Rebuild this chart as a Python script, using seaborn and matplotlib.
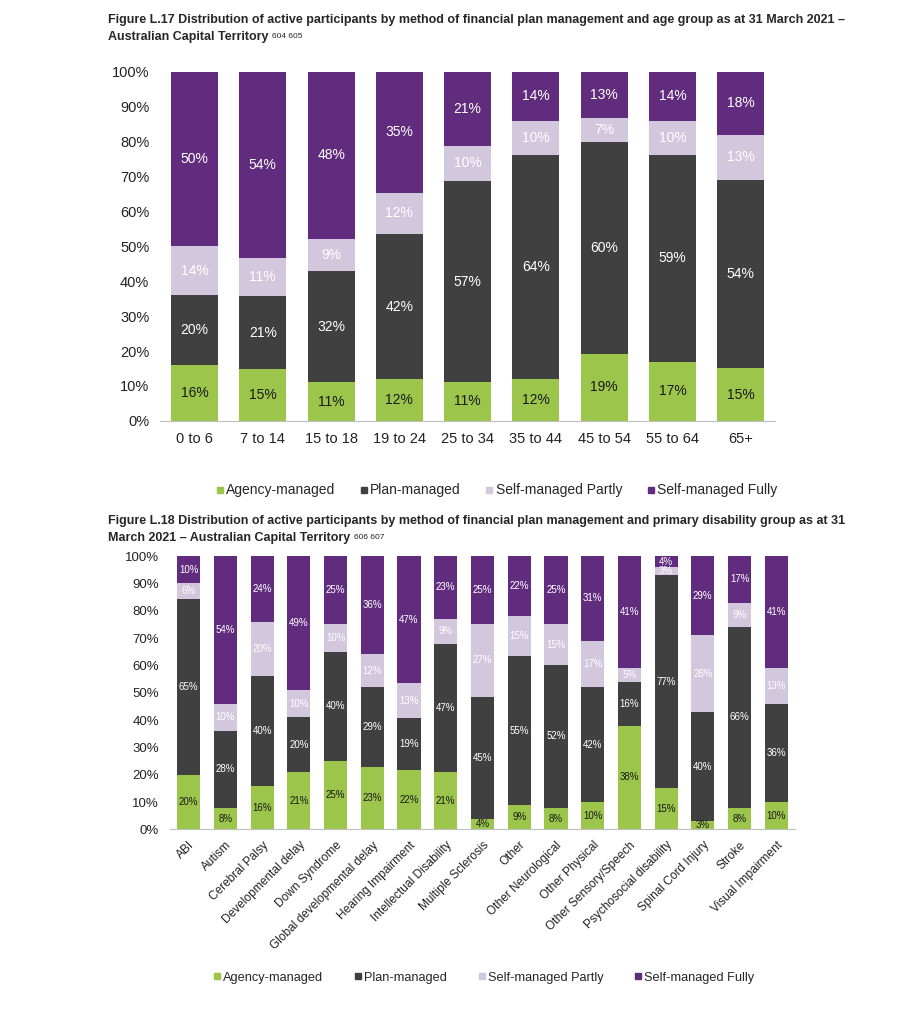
import numpy as np
import pandas as pd
import matplotlib
matplotlib.use("Agg")
import matplotlib.pyplot as plt
from matplotlib.lines import Line2D
from matplotlib import font_manager
import seaborn as sns

sns.set_theme(style="white")
plt.rcParams['font.family'] = ['Liberation Sans', 'DejaVu Sans']

series = ["Agency-managed", "Plan-managed", "Self-managed Partly", "Self-managed Fully"]
colors = ["#9BC54B", "#404041", "#D3C7DE", "#612C7D"]
text_colors = ["#1a1a1a", "white", "white", "white"]

age_groups = ["0 to 6", "7 to 14", "15 to 18", "19 to 24", "25 to 34", "35 to 44", "45 to 54", "55 to 64", "65+"]
age_agency = [16, 15, 11, 12, 11, 12, 19, 17, 15]
age_plan = [20, 21, 32, 42, 57, 64, 60, 59, 54]
age_partly = [14, 11, 9, 12, 10, 10, 7, 10, 13]
age_fully = [50, 54, 48, 35, 21, 14, 13, 14, 18]

dis_groups = ["ABI", "Autism", "Cerebral Palsy", "Developmental delay", "Down Syndrome",
              "Global developmental delay", "Hearing Impairment", "Intellectual Disability",
              "Multiple Sclerosis", "Other", "Other Neurological", "Other Physical",
              "Other Sensory/Speech", "Psychosocial disability", "Spinal Cord Injury",
              "Stroke", "Visual Impairment"]
dis_agency = [20, 8, 16, 21, 25, 23, 22, 21, 4, 9, 8, 10, 38, 15, 3, 8, 10]
dis_plan = [65, 28, 40, 20, 40, 29, 19, 47, 45, 55, 52, 42, 16, 77, 40, 66, 36]
dis_partly = [6, 10, 20, 10, 10, 12, 13, 9, 27, 15, 15, 17, 5, 3, 28, 9, 13]
dis_fully = [10, 54, 24, 49, 25, 36, 47, 23, 25, 22, 25, 31, 41, 4, 29, 17, 41]

fig = plt.figure(figsize=(9.01, 10.24), dpi=100)


def stacked(ax, cats, vals, width, fs_lab, fs_tick, fs_xtick, rot):
    df = pd.DataFrame({"cat": cats})
    arr = np.array(vals, dtype=float)
    shares = arr / arr.sum(axis=0) * 100.0   # 100% stacked
    cum = np.cumsum(shares, axis=0)
    for k in range(len(series) - 1, -1, -1):
        df["top"] = cum[k]
        sns.barplot(data=df, x="cat", y="top", color=colors[k], width=width,
                    saturation=1, ax=ax, edgecolor="none", linewidth=0, zorder=2)
    for k in range(len(series)):
        for i in range(len(cats)):
            h = shares[k, i]
            yc = cum[k, i] - h / 2
            ax.text(i, yc, f"{int(arr[k, i])}%", ha="center", va="center",
                    color=text_colors[k], fontsize=fs_lab, zorder=5)
    ax.set_ylim(0, 100)
    ax.set_xlim(-0.5, len(cats) - 0.5)
    ax.set_yticks(np.arange(0, 101, 10))
    ax.set_yticklabels([f"{t}%" for t in range(0, 101, 10)], fontsize=fs_tick, color="#222222")
    ax.set_xlabel("")
    ax.set_ylabel("")
    for s in ["top", "right", "left"]:
        ax.spines[s].set_visible(False)
    ax.spines["bottom"].set_color("#bfbfbf")
    ax.spines["bottom"].set_linewidth(0.8)
    ax.set_xticks(np.arange(len(cats)))
    if rot:
        ax.set_xticklabels(cats, rotation=45, ha="right", rotation_mode="anchor",
                           fontsize=fs_xtick, color="#222222")
        ax.tick_params(axis="x", which="major", length=0, pad=7)
    else:
        ax.set_xticklabels(cats, fontsize=fs_xtick, color="#222222")
        ax.tick_params(axis="x", which="major", length=0, pad=8)
    ax.set_xticks(np.arange(len(cats) + 1) - 0.5, minor=True)
    ax.tick_params(axis="x", which="minor", length=4, color="#bfbfbf", width=0.8, direction="out")
    ax.tick_params(axis="y", length=0, pad=8)
    ax.grid(False)


ax1 = fig.add_axes([0.178, 0.589, 0.682, 0.341])
stacked(ax1, age_groups, [age_agency, age_plan, age_partly, age_fully], 0.69, 10, 10.5, 10.5, False)

ax2 = fig.add_axes([0.189, 0.190, 0.693, 0.267])
stacked(ax2, dis_groups, [dis_agency, dis_plan, dis_partly, dis_fully], 0.63, 7, 9.5, 8.6, True)

handles = [Line2D([], [], marker="s", linestyle="none", markersize=5,
                  markerfacecolor=c, markeredgecolor=c) for c in colors]
fig.legend(handles, series, loc="center", bbox_to_anchor=(0.551, 0.521), ncol=4,
           frameon=False, fontsize=10, handlelength=0.6, handletextpad=0.15,
           columnspacing=1.75)
fig.legend(handles, series, loc="center", bbox_to_anchor=(0.537, 0.045), ncol=4,
           frameon=False, fontsize=9.2, handlelength=0.6, handletextpad=0.15,
           columnspacing=2.45)

# Title font: condensed bold if available
names = {f.name for f in font_manager.fontManager.ttflist}
if "Liberation Sans Narrow" in names:
    tfam, tsize = ["Liberation Sans Narrow", "Liberation Sans"], 10.8
else:
    tfam, tsize = ["Liberation Sans", "DejaVu Sans"], 9

fig.text(0.12, 0.9805, "Figure L.17 Distribution of active participants by method of financial plan management and age group as at 31 March 2021 \u2013",
         fontsize=tsize, fontweight="bold", family=tfam, ha="left", va="center")
t = fig.text(0.12, 0.964, "Australian Capital Territory",
             fontsize=tsize, fontweight="bold", family=tfam, ha="left", va="center")
fig.text(0.12, 0.491, "Figure L.18 Distribution of active participants by method of financial plan management and primary disability group as at 31",
         fontsize=tsize, fontweight="bold", family=tfam, ha="left", va="center")
t2 = fig.text(0.12, 0.4745, "March 2021 \u2013 Australian Capital Territory",
              fontsize=tsize, fontweight="bold", family=tfam, ha="left", va="center")

fig.canvas.draw()
r = fig.canvas.get_renderer()
for tt, sup in [(t, "604 605"), (t2, "606 607")]:
    bb = tt.get_window_extent(r)
    x0 = bb.x1 / fig.bbox.width + 0.004
    y0 = bb.y1 / fig.bbox.height - 0.002
    fig.text(x0, y0, sup, fontsize=6, family=tfam, ha="left", va="top")

fig.savefig("out.png", dpi=100, facecolor="white")
